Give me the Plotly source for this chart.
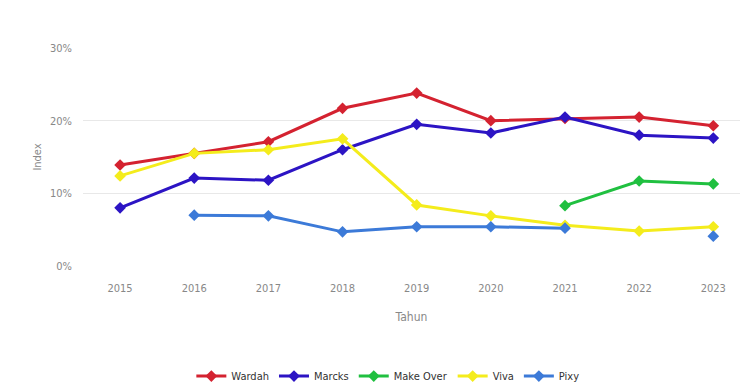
import plotly.graph_objects as go

years = [2015, 2016, 2017, 2018, 2019, 2020, 2021, 2022, 2023]
wardah = [13.9, 15.5, 17.1, 21.7, 23.8, 20.0, 20.3, 20.5, 19.3]
marcks = [8.0, 12.1, 11.8, 16.0, 19.5, 18.3, 20.5, 18.0, 17.6]
make_over = [None, None, None, None, None, None, 8.3, 11.7, 11.3]
viva = [12.4, 15.5, 16.0, 17.5, 8.4, 6.9, 5.6, 4.8, 5.4]
pixy = [None, 7.0, 6.9, 4.7, 5.4, 5.4, 5.2, None, 4.1]

series = [
    ("Wardah", wardah, "#d42230"),
    ("Marcks", marcks, "#2c14c4"),
    ("Make Over", make_over, "#20c040"),
    ("Viva", viva, "#f4ec1c"),
    ("Pixy", pixy, "#3c7ad8"),
]

font_family = "Liberation Sans Narrow, Arial Narrow, DejaVu Sans Condensed, sans-serif"

fig = go.Figure()
for name, vals, col in series:
    fig.add_trace(go.Scatter(
        x=years, y=vals, name=name, mode="lines+markers",
        line=dict(color=col, width=3),
        marker=dict(symbol="diamond", size=9, color=col),
        connectgaps=False,
    ))

fig.update_layout(
    width=746, height=386,
    margin=dict(l=83, r=6, t=48, b=120, autoexpand=False),
    paper_bgcolor="white", plot_bgcolor="white",
    font=dict(family=font_family, size=11, color="#888888"),
    xaxis=dict(
        range=[2014.5, 2023.36], tickmode="array", tickvals=years,
        ticktext=[str(y) for y in years], showgrid=False, zeroline=False,
        showline=False, ticks="", ticklabelstandoff=14, automargin=False,
        title=dict(text="Tahun", font=dict(size=12, color="#888888"), standoff=18),
    ),
    yaxis=dict(
        range=[0, 30], tickvals=[0, 10, 20, 30],
        ticktext=["0%", "10%", "20%", "30%"], showgrid=True,
        gridcolor="#e8e8e8", gridwidth=1, zeroline=False, showline=False,
        ticks="", ticklabelstandoff=10, automargin=False,
        title=dict(text="Index", font=dict(size=11, color="#888888"), standoff=6),
    ),
    showlegend=True,
    legend=dict(orientation="h", x=0.464, xanchor="center", y=-0.505, yanchor="middle",
                font=dict(size=11, color="#333333"), itemwidth=30),
)

fig.write_html("out.html")
